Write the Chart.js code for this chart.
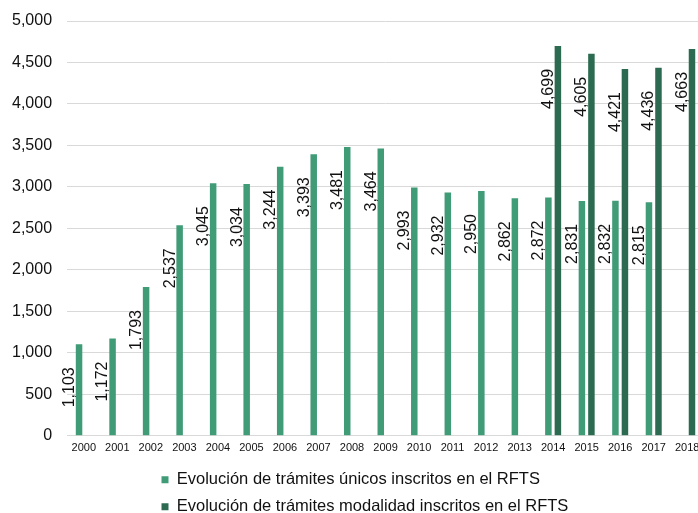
<!DOCTYPE html>
<html>
<head>
<meta charset="utf-8">
<script src="https://cdn.jsdelivr.net/npm/chart.js@4.4.0/dist/chart.umd.min.js"></script>
<style>
  body { margin: 0; background: #fff; overflow: hidden; }
  #myChartdiv { width: 740px; height: 513px; }
</style>
</head>
<body>
<div id="myChartdiv"><canvas id="myChart" width="740" height="513"></canvas></div>
<script>
var years = ["2000", "2001", "2002", "2003", "2004", "2005", "2006", "2007", "2008", "2009",
             "2010", "2011", "2012", "2013", "2014", "2015", "2016", "2017", "2018"];
var unicos = [1103, 1172, 1793, 2537, 3045, 3034, 3244, 3393, 3481, 3464,
              2993, 2932, 2950, 2862, 2872, 2831, 2832, 2815, null];
var modalidad = [null, null, null, null, null, null, null, null, null, null,
                 null, null, null, null, 4699, 4605, 4421, 4436, 4663];
var labelUnicos = "Evolución de trámites únicos inscritos en el RFTS";
var labelModalidad = "Evolución de trámites modalidad inscritos en el RFTS";

var lightGreen = "#409b77";
var darkGreen = "#2c6b51";

function fmt(v) {
    return Number(v).toLocaleString("en-US");
}

// rotated value labels, sitting just left of each bar
var barLabels = {
    id: "barLabels",
    afterDatasetsDraw: function (chart) {
        var ctx = chart.ctx;
        chart.data.datasets.forEach(function (ds, i) {
            var meta = chart.getDatasetMeta(i);
            meta.data.forEach(function (bar, j) {
                var v = ds.data[j];
                if (v === null || v === undefined) return;
                ctx.save();
                ctx.translate(bar.x - 9.5, bar.y + 43);
                ctx.rotate(-Math.PI / 2);
                ctx.font = "16px 'Liberation Sans', Arial, sans-serif";
                ctx.fillStyle = "#111";
                ctx.textAlign = "center";
                ctx.textBaseline = "middle";
                ctx.fillText(fmt(v), 0, 0);
                ctx.restore();
            });
        });
    }
};

// legend block is left aligned under the plot, like the original
var legendNudge = {
    id: "legendNudge",
    afterLayout: function (chart) {
        var l = chart.legend;
        var h = l.height;
        l.left = 151;
        l.top = 461;
        l.bottom = l.top + h;
    }
};

var ctx = document.getElementById("myChart").getContext("2d");
var myChart = new Chart(ctx, {
    type: "bar",
    data: {
        labels: years,
        datasets: [{
            label: labelUnicos,
            data: unicos,
            backgroundColor: lightGreen,
            categoryPercentage: 0.567,
            barPercentage: 0.684
        }, {
            label: labelModalidad,
            data: modalidad,
            backgroundColor: darkGreen,
            categoryPercentage: 0.567,
            barPercentage: 0.684
        }]
    },
    options: {
        responsive: false,
        animation: false,
        layout: { padding: { left: -3, right: 36, top: 21, bottom: -12 } },
        plugins: {
            tooltip: { enabled: false },
            legend: {
                position: "bottom",
                align: "start",
                labels: {
                    boxWidth: 7,
                    boxHeight: 7,
                    padding: 10.5,
                    color: "#111",
                    font: { family: "'Liberation Sans', Arial, sans-serif", size: 16.5 }
                }
            }
        },
        scales: {
            x: {
                grid: { display: false, drawTicks: false },
                border: { display: false },
                ticks: {
                    color: "#111",
                    padding: 6,
                    maxRotation: 0,
                    autoSkip: false,
                    font: { family: "'Liberation Sans', Arial, sans-serif", size: 11 }
                }
            },
            y: {
                min: 0,
                max: 5000,
                afterFit: function (scale) {
                    scale.paddingTop = 0;
                },
                grid: { color: "#d9d9d9", drawTicks: false, lineWidth: 1 },
                border: { display: false },
                ticks: {
                    stepSize: 500,
                    padding: 15,
                    color: "#111",
                    font: { family: "'Liberation Sans', Arial, sans-serif", size: 16 },
                    callback: function (value) {
                        return fmt(value);
                    }
                }
            }
        }
    },
    plugins: [barLabels, legendNudge]
});
</script>
</body>
</html>
